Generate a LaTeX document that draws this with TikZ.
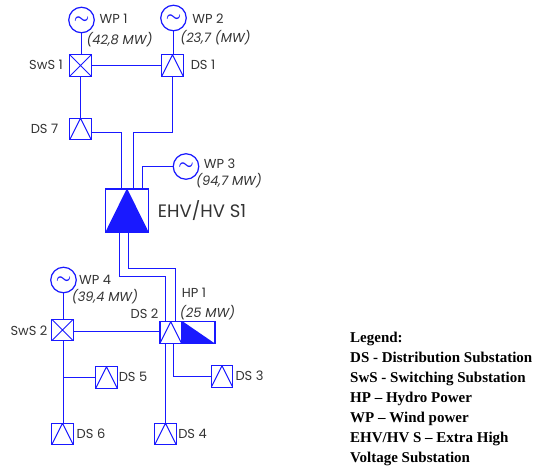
\documentclass[tikz,border=0pt]{standalone}
\usepackage{fontspec}
\setsansfont{Poppins}
\setmainfont{Liberation Serif}
\definecolor{netblue}{RGB}{25,25,255}
\begin{document}
\begin{tikzpicture}[x=1pt,y=-1pt]
	\tikzstyle{wire}=[draw=netblue, line width=1.2pt]
	\tikzstyle{box}=[rectangle, draw=netblue, line width=1.4pt, inner sep=0pt, minimum width=21.5pt, minimum height=21.5pt]
	\tikzstyle{ds}=[box, path picture={\draw[netblue, line width=1pt] (path picture bounding box.south west) -- (path picture bounding box.north) -- (path picture bounding box.south east);}]
	\tikzstyle{sws}=[box, path picture={\draw[netblue, line width=.9pt] (path picture bounding box.south west) -- (path picture bounding box.north east) (path picture bounding box.north west) -- (path picture bounding box.south east);}]
	\tikzstyle{gen}=[circle, draw=netblue, line width=1.2pt, inner sep=0pt, minimum width=25.5pt, text=netblue, font=\LARGE\boldmath]
	\tikzstyle{lbl}=[inner sep=0pt, text=black!80, font=\sffamily\fontsize{13}{15}\selectfont]
	\tikzstyle{mw}=[lbl, font=\sffamily\itshape\fontsize{13}{15}\selectfont]

	\useasboundingbox (0,0) rectangle (535,466);

	\node[gen] (wp1) at (81.5,20) {$\sim$};
	\node[gen] (wp2) at (173.5,18) {$\sim$};
	\node[gen] (wp3) at (186,166.5) {$\sim$};
	\node[gen] (wp4) at (63.5,280) {$\sim$};
	\node[sws] (sws1) at (80.5,65.5) {};
	\node[ds] (ds1) at (172.5,65.5) {};
	\node[ds] (ds7) at (80.5,129) {};
	\node[box, minimum width=42.5pt, minimum height=43pt] (ehv) at (127,210.5) {};
	\node[sws] (sws2) at (62.5,330) {};
	\node[ds] (ds2) at (170.7,332.5) {};
	\node[box, anchor=west, minimum width=32pt] (hp1) at (ds2.east) {};
	\node[ds] (ds3) at (222,376.5) {};
	\node[ds] (ds4) at (165.5,434) {};
	\node[ds] (ds5) at (106.5,377.5) {};
	\node[ds] (ds6) at (62.5,434) {};

	\fill[netblue] (ehv.north) -- (ehv.south east) -- (ehv.south west) -- cycle;
	\fill[netblue] (hp1.north west) -- (hp1.south east) -- (hp1.south west) -- cycle;

	\coordinate (ds1bend) at (133.5,132.5);
	\coordinate (ds7bend) at (121.5,132.5);
	\coordinate (wp3bend) at (142.5,166.5);
	\coordinate (ehvleft) at (119.5,276.5);
	\coordinate (ehvright) at (128.5,268.5);
	\coordinate (ds2left) at (165.5,276.5);
	\coordinate (ds2right) at (175.5,268.5);
	\coordinate (ds3bend) at (173.5,376.5);
	\coordinate (ds5tee) at (63.5,377.5);

	\draw[wire] (wp1) -- (wp1 |- sws1.north);
	\draw[wire] (wp2) -- (wp2 |- ds1.north);
	\draw[wire] (sws1) -- (ds1);
	\draw[wire] (sws1) -- (ds7);
	\draw[wire] (ds1bend -| ds1.south) -- (ds1.south);
	\draw[wire] (ds1bend -| ds1.south) -- (ds1bend) -- (ds1bend |- ehv.north);
	\draw[wire] (ds7bend) -- (ds7bend |- ehv.north);
	\draw[wire] (ds7.east |- ds7bend) -- (ds7bend);
	\draw[wire] (wp3) -- (wp3bend) -- (wp3bend |- ehv.north);
	\draw[wire] (ehvleft |- ehv.south) -- (ehvleft) -- (ds2left) -- (ds2left |- ds2.north);
	\draw[wire] (ehvright |- ehv.south) -- (ehvright) -- (ds2right) -- (ds2right |- ds2.north);
	\draw[wire] (wp4) -- (wp4 |- sws2.north);
	\draw[wire] (sws2.east |- 0,331.5) -- (ds2.west |- 0,331.5);
	\draw[wire] (ds5tee |- sws2.south) -- (ds5tee |- ds6.north);
	\draw[wire] (ds5tee) -- (ds5);
	\draw[wire] (ds4 |- ds2.south) -- (ds4);
	\draw[wire] (ds3bend |- ds2.south) -- (ds3bend) -- (ds3);

	\node[lbl] (wp1name) at (113.5,19) {WP 1};
	\node[mw] (wp1power) at (119.5,39.5) {(42,8 MW)};
	\node[lbl] (wp2name) at (208,19) {WP 2};
	\node[mw] (wp2power) at (215.5,38) {(23,7 (MW)};
	\node[lbl] (sws1name) at (46,65) {SwS 1};
	\node[lbl] (ds1name) at (203,65) {DS 1};
	\node[lbl] (ds7name) at (44.5,129) {DS 7};
	\node[lbl] (wp3name) at (219.5,164) {WP 3};
	\node[mw] (wp3power) at (229,181) {(94,7 MW)};
	\node[lbl, font=\sffamily\fontsize{18}{21}\selectfont] (ehvname) at (202,211) {EHV/HV S1};
	\node[lbl] (wp4name) at (95,280) {WP 4};
	\node[mw] (wp4power) at (105,297) {(39,4 MW)};
	\node[lbl] (hp1name) at (194,293) {HP 1};
	\node[mw] (hp1power) at (207.5,313) {(25 MW)};
	\node[lbl] (ds2name) at (144.5,314) {DS 2};
	\node[lbl] (sws2name) at (29,331) {SwS 2};
	\node[lbl] (ds5name) at (133,377) {DS 5};
	\node[lbl] (ds3name) at (249.5,376) {DS 3};
	\node[lbl] (ds6name) at (91,434) {DS 6};
	\node[lbl] (ds4name) at (192.5,434) {DS 4};

	\node[anchor=north west, inner sep=0pt, align=left, font=\rmfamily\bfseries\fontsize{15}{20}\selectfont] (legend) at (350,332) {Legend:\\DS - Distribution Substation\\SwS - Switching Substation\\HP -- Hydro Power\\WP -- Wind power\\EHV/HV S -- Extra High\\Voltage Substation};
\end{tikzpicture}
\end{document}
